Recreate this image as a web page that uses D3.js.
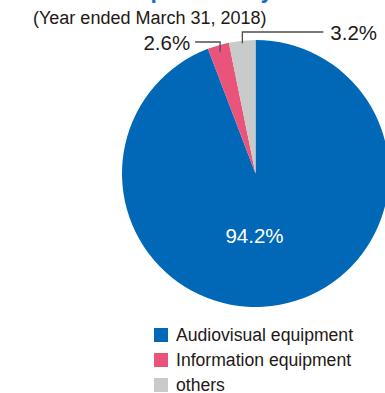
<!DOCTYPE html>
<html>
<head>
<meta charset="utf-8">
<script src="https://cdn.jsdelivr.net/npm/d3@7/dist/d3.min.js"></script>
<style>
  html, body { margin: 0; padding: 0; background: #fff; }
  svg { display: block; font-family: "Liberation Sans", Arial, Helvetica, sans-serif; }
</style>
</head>
<body>
<svg id="chart" width="385" height="393"></svg>
<script>
// Sales composition, year ended March 31, 2018
const categories = ["Audiovisual equipment", "Information equipment", "others"];
const shares = [94.2, 2.6, 3.2];
const shareLabels = ["94.2%", "2.6%", "3.2%"];
const colors = ["#0068b7", "#e9547b", "#c9caca"];

const titleText = "Sales Composition by Product";
const subtitleText = "(Year ended March 31, 2018)";

const W = 385, H = 393;
const cx = 255.5, cy = 173.5, R = 133.5;
const textColor = "#231815";

const svg = d3.select("#chart");

// Title (sits mostly above the visible area)
svg.append("text")
  .attr("x", 33).attr("y", -2)
  .attr("font-size", 23).attr("font-weight", "bold")
  .attr("fill", "#1670c4")
  .text(titleText);

svg.append("text")
  .attr("x", 33).attr("y", 24)
  .attr("font-size", 18)
  .attr("fill", textColor)
  .text(subtitleText);

const color = d3.scaleOrdinal().domain(categories).range(colors);

const pie = d3.pie().sort(null).value(d => d.value);
const data = categories.map((c, i) => ({ name: c, value: shares[i], label: shareLabels[i] }));
const arcs = pie(data);

const arc = d3.arc().innerRadius(0).outerRadius(R);

const g = svg.append("g").attr("transform", `translate(${cx},${cy})`);

g.selectAll("path.slice")
  .data(arcs)
  .join("path")
  .attr("class", "slice")
  .attr("d", arc)
  .attr("fill", d => color(d.data.name));

// Large slice: label inside
const big = arcs[0];
g.append("text")
  .attr("x", -1)
  .attr("y", 69.5)
  .attr("text-anchor", "middle")
  .attr("font-size", 20.5)
  .attr("fill", "#fff")
  .text(big.data.label);

// Small slices: elbow leader lines to labels outside the pie
const leaderStyle = [
  { anchorR: 0.95, elbowR: 1.0 + 0.5 / R * 1, riseTo: 131.5, side: -1, run: 25, gap: 5 },
  { anchorR: 0.98, elbowR: 1.0, riseTo: 141.5, side: 1, run: 81, gap: 7 }
];

arcs.slice(1).forEach((d, i) => {
  const s = leaderStyle[i];
  const mid = (d.startAngle + d.endAngle) / 2;
  const ax = Math.sin(mid) * R * s.anchorR;
  const ay = -Math.cos(mid) * R * s.anchorR;
  const ey = -s.riseTo;
  const ex = ax + s.side * s.run;
  g.append("path")
    .attr("d", d3.line()([[ax, ay], [ax, ey], [ex, ey]]))
    .attr("fill", "none")
    .attr("stroke", "#4d4d4d")
    .attr("stroke-width", 1.3);
  g.append("text")
    .attr("x", ex + s.side * s.gap)
    .attr("y", ey + 7.5)
    .attr("text-anchor", s.side < 0 ? "end" : "start")
    .attr("font-size", 20.5)
    .attr("fill", textColor)
    .text(d.data.label);
});

// Legend
const legend = svg.append("g").attr("transform", "translate(154,328)");
const rows = legend.selectAll("g.row")
  .data(categories)
  .join("g")
  .attr("class", "row")
  .attr("transform", (d, i) => `translate(0,${i * 25})`);

rows.append("rect")
  .attr("width", 14).attr("height", 14)
  .attr("fill", d => color(d));

rows.append("text")
  .attr("x", 22).attr("y", 13)
  .attr("font-size", 17.6)
  .attr("fill", textColor)
  .text(d => d);
</script>
</body>
</html>
